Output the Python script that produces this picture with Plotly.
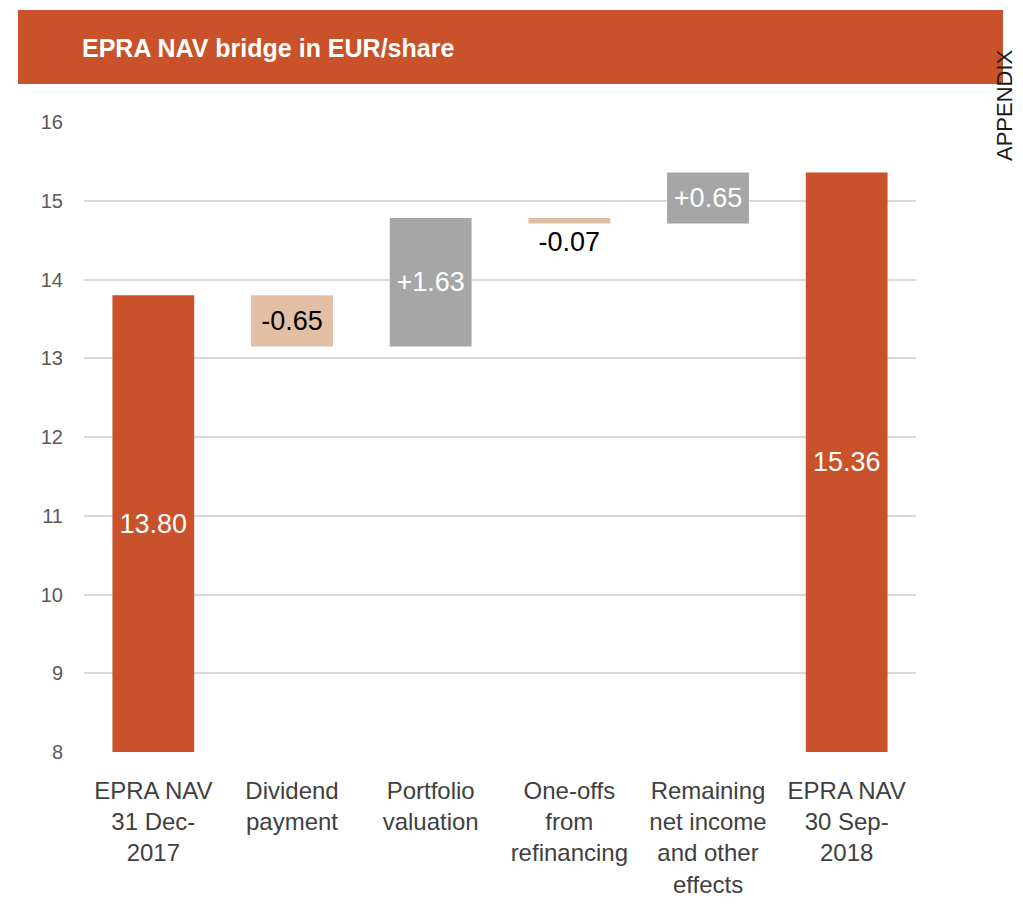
import plotly.graph_objects as go

categories = ["EPRA NAV<br>31 Dec-<br>2017", "Dividend<br>payment", "Portfolio<br>valuation",
              "One-offs<br>from<br>refinancing", "Remaining<br>net income<br>and other<br>effects",
              "EPRA NAV<br>30 Sep-<br>2018"]
start_nav = 13.80
changes = [-0.65, 1.63, -0.07, 0.65]
end_nav = 15.36
y_ticks = [8, 9, 10, 11, 12, 13, 14, 15, 16]

Y_MIN, Y_MAX = 8, 16
ORANGE = "#C9522A"
NEG = "#E2BEA5"
POS = "#A6A6A6"

# build waterfall bases
bases, lengths, colors, texts, tcolors, tpos = [], [], [], [], [], []
bases.append(Y_MIN); lengths.append(start_nav - Y_MIN); colors.append(ORANGE)
texts.append(f"{start_nav:.2f}"); tcolors.append("white"); tpos.append("inside")
level = start_nav
for c in changes:
    bases.append(level); lengths.append(c)
    colors.append(POS if c > 0 else NEG)
    texts.append(f"{c:+.2f}")
    tcolors.append("white" if c > 0 else "black")
    tpos.append("inside" if abs(c) > 0.3 else "outside")
    level += c
bases.append(Y_MIN); lengths.append(end_nav - Y_MIN); colors.append(ORANGE)
texts.append(f"{end_nav:.2f}"); tcolors.append("white"); tpos.append("inside")

FONT = "Liberation Sans, Arial, sans-serif"

# page offset (browser body margin) compensation
OFF = 8
W, H = 1023 - OFF, 912 - OFF
# plot area in page pixels
PX0, PX1, PY0, PY1 = 84, 916, 122, 752
L, R = PX0 - OFF, W - (PX1 - OFF)
T, B = PY0 - OFF, H - (PY1 - OFF)
PW, PH = PX1 - PX0, PY1 - PY0

def px(x):
    return (x - PX0) / PW

def py(y):
    return (PY1 - y) / PH

fig = go.Figure()
fig.add_trace(go.Bar(
    x=categories, y=lengths, base=bases,
    marker=dict(color=colors, line=dict(width=0)),
    text=texts, textposition=tpos, insidetextanchor="middle", textangle=0,
    textfont=dict(family=FONT, size=27, color=tcolors),
    outsidetextfont=dict(family=FONT, size=27, color="black"),
    constraintext="none", cliponaxis=False,
    width=0.59, hoverinfo="skip",
))

fig.update_layout(
    width=W, height=H,
    margin=dict(l=L, r=R, t=T, b=B, autoexpand=False),
    paper_bgcolor="white", plot_bgcolor="white",
    showlegend=False,
    font=dict(family=FONT),
    xaxis=dict(showgrid=False, showline=False, ticks="",
               tickfont=dict(family=FONT, size=24, color="#404040"),
               ticklabelstandoff=22),
    yaxis=dict(range=[Y_MIN, Y_MAX], tickvals=y_ticks, showgrid=True,
               gridcolor="#D9D9D9", gridwidth=2, zeroline=False, showline=False,
               tickfont=dict(family=FONT, size=20, color="#595959"),
               ticklabelstandoff=20),
    shapes=[dict(type="rect", xref="paper", yref="paper",
                 x0=px(18), x1=px(1003), y0=py(84), y1=py(10),
                 fillcolor=ORANGE, line=dict(width=0), layer="above")],
    annotations=[
        dict(text="<b>EPRA NAV bridge in EUR/share</b>", xref="paper", yref="paper",
             x=px(80), y=py(48), xanchor="left", yanchor="middle", showarrow=False,
             font=dict(family=FONT, size=25, color="white")),
        dict(text="APPENDIX", xref="paper", yref="paper", textangle=-90,
             x=px(1004), y=py(105), xanchor="center", yanchor="middle", showarrow=False,
             font=dict(family=FONT, size=22, color="#1a1a1a")),
    ],
)

fig.write_html("out.html")
